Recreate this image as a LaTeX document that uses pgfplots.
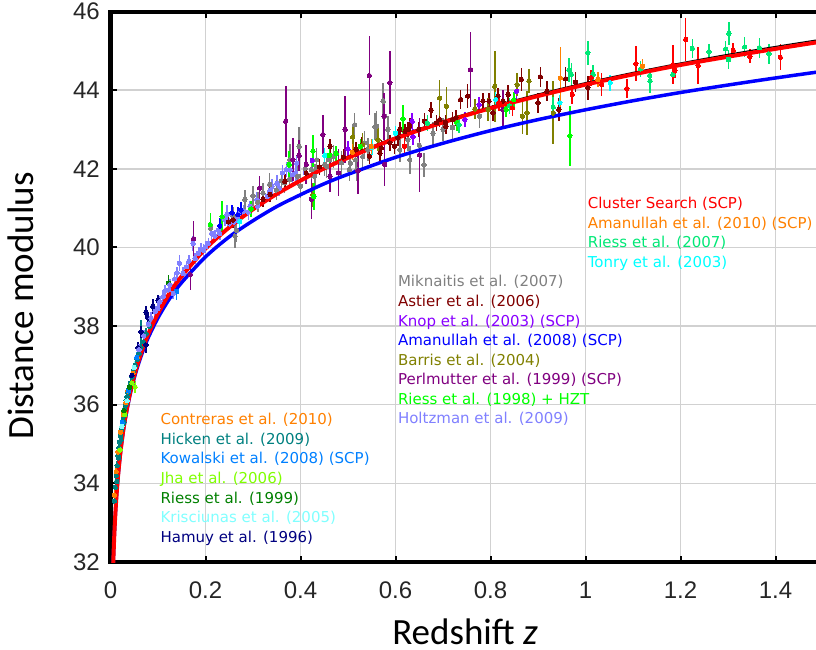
\documentclass[border=0pt]{standalone}
\usepackage{fontspec}
\setmainfont{DejaVu Sans}
\newfontfamily\tickfont{Liberation Sans}
\newfontfamily\labfont{Carlito}
\usepackage{pgfplots}
\pgfplotsset{compat=1.18}
\definecolor{cCluster}{RGB}{255,0,0}
\definecolor{cAma10}{RGB}{255,128,0}
\definecolor{cRie07}{RGB}{0,232,118}
\definecolor{cTonry}{RGB}{0,255,255}
\definecolor{cMik}{RGB}{128,128,128}
\definecolor{cAst}{RGB}{128,0,0}
\definecolor{cKnop}{RGB}{136,0,255}
\definecolor{cAma08}{RGB}{0,0,255}
\definecolor{cBarris}{RGB}{128,128,0}
\definecolor{cPerl}{RGB}{128,0,128}
\definecolor{cRie98}{RGB}{0,255,0}
\definecolor{cHoltz}{RGB}{128,128,255}
\definecolor{cContr}{RGB}{255,128,0}
\definecolor{cHick}{RGB}{0,128,128}
\definecolor{cKow}{RGB}{0,128,255}
\definecolor{cJha}{RGB}{128,255,0}
\definecolor{cRie99}{RGB}{0,128,0}
\definecolor{cKris}{RGB}{128,255,255}
\definecolor{cHamuy}{RGB}{0,0,128}
\pgfplotsset{sn/.style={only marks, mark=*, mark size=2.2pt, color=#1,
  mark options={solid, fill=#1, draw=#1, line width=0pt},
  error bars/.cd, y dir=both, y explicit, error mark=none,
  error bar style={color=#1, line width=1.5pt}}}
\newcommand\legf{\fontsize{15}{18}\selectfont}
\begin{document}
\begin{tikzpicture}
\begin{axis}[
  scale only axis, width=712.5pt, height=550.5pt,
  xmin=0, xmax=1.5, ymin=32, ymax=46,
  xtick={0,0.2,0.4,0.6,0.8,1,1.2,1.4},
  xticklabels={0,0.2,0.4,0.6,0.8,1,1.2,1.4},
  ytick={32,34,36,38,40,42,44,46},
  yticklabels={32,34,36,38,40,42,44,46},
  tick align=inside, major tick length=6pt,
  tick style={black, line width=2pt},
  grid=major, grid style={black!18, line width=1.5pt},
  axis line style={line width=4pt},
  xticklabel style={font={\tickfont\fontsize{24}{28}\selectfont}, text=black!85, inner sep=0pt, anchor=north, yshift=-20pt},
  yticklabel style={font={\tickfont\fontsize{24}{28}\selectfont}, text=black!85, inner sep=0pt, anchor=east, xshift=-10.5pt},
]
\coordinate (BL) at (rel axis cs:0,0);
% ---- low redshift samples
\addplot[sn=cHick] table[x=z,y=mu,y error=e] {
z mu e
0.008 33.55 0.15
0.010 33.90 0.15
0.012 34.20 0.12
0.013 34.05 0.15
0.014 34.45 0.12
0.016 34.70 0.12
0.017 34.65 0.12
0.018 34.90 0.10
0.019 35.05 0.12
0.021 35.20 0.10
0.022 35.10 0.10
0.023 35.35 0.12
0.025 35.50 0.10
0.026 35.60 0.12
0.027 35.70 0.10
0.028 35.55 0.12
0.029 35.80 0.12
0.030 35.90 0.10
0.031 35.75 0.12
0.032 36.00 0.12
0.033 36.10 0.10
0.034 36.05 0.10
0.035 36.20 0.15
0.037 36.30 0.12
0.039 36.40 0.12
0.042 36.55 0.10
0.045 36.70 0.15
0.048 36.85 0.12
0.052 37.00 0.12
0.056 37.15 0.15
0.060 37.30 0.12
0.064 37.85 0.30
0.064 37.45 0.15
0.069 37.60 0.15
0.075 37.80 0.15
0.082 38.00 0.15
};
\addplot[sn=cContr] table[x=z,y=mu,y error=e] {
z mu e
0.008 33.70 0.12
0.012 34.30 0.10
0.016 34.80 0.10
0.021 35.30 0.10
0.027 35.75 0.10
0.032 36.05 0.10
0.037 36.35 0.10
0.047 36.80 0.10
0.056 37.20 0.10
};
\addplot[sn=cKow] table[x=z,y=mu,y error=e] {
z mu e
0.025 35.55 0.15
0.038 36.35 0.15
0.055 37.20 0.15
0.139 38.88 0.22
};
\addplot[sn=cJha] table[x=z,y=mu,y error=e] {
z mu e
0.020 34.85 0.15
0.030 35.75 0.12
0.045 36.55 0.12
0.052 36.45 0.15
};
\addplot[sn=cRie99] table[x=z,y=mu,y error=e] {
z mu e
0.028 35.85 0.15
0.040 36.45 0.15
0.122 39.09 0.20
};
\addplot[sn=cKris] table[x=z,y=mu,y error=e] {
z mu e
0.024 35.45 0.12
0.035 36.10 0.12
0.050 36.95 0.15
};
\addplot[sn=cHamuy] table[x=z,y=mu,y error=e] {
z mu e
0.045 36.75 0.15
0.058 37.45 0.15
0.064 37.85 0.15
0.0745 37.52 0.20
0.075 38.35 0.15
0.079 38.20 0.15
0.089 38.50 0.20
0.100 38.65 0.15
};
% ---- intermediate redshift samples
\addplot[sn=cHoltz] table[x=z,y=mu,y error=e] {
z mu e
0.060 37.40 0.15
0.070 37.75 0.15
0.080 38.05 0.15
0.085 38.20 0.15
0.094 38.37 0.15
0.100 38.45 0.15
0.104 38.62 0.15
0.111 38.75 0.15
0.115 38.90 0.15
0.122 38.92 0.15
0.125 39.05 0.15
0.132 38.83 0.15
0.135 39.20 0.15
0.140 39.35 0.15
0.145 39.60 0.20
0.153 39.34 0.15
0.160 39.51 0.15
0.165 39.65 0.15
0.174 40.10 0.20
0.178 39.72 0.15
0.185 39.85 0.15
0.190 39.95 0.15
0.196 39.93 0.15
0.200 40.02 0.15
0.206 40.10 0.15
0.213 40.36 0.20
0.220 40.29 0.15
0.227 40.44 0.15
0.230 40.35 0.15
0.241 40.70 0.15
0.245 40.84 0.25
0.250 40.60 0.15
0.255 40.84 0.15
0.260 40.65 0.15
0.266 40.75 0.15
0.270 40.85 0.15
0.280 40.92 0.15
0.290 40.90 0.20
0.294 41.04 0.15
0.308 41.21 0.20
0.310 41.05 0.15
0.321 41.38 0.20
0.330 41.30 0.15
0.336 41.46 0.20
0.340 41.55 0.20
0.350 41.63 0.20
0.355 41.50 0.20
0.362 41.90 0.20
0.370 41.98 0.20
0.378 41.97 0.20
0.383 41.85 0.20
0.390 41.90 0.20
0.392 42.14 0.20
0.410 41.90 0.25
};
\addplot[sn=cMik] table[x=z,y=mu,y error=e] {
z mu e
0.211 40.49 0.20
0.258 40.79 0.25
0.262 40.29 0.30
0.265 40.44 0.30
0.283 41.22 0.25
0.300 41.31 0.25
0.310 41.15 0.25
0.321 41.38 0.25
0.335 41.60 0.30
0.349 41.46 0.25
0.360 41.70 0.25
0.366 41.64 0.25
0.377 41.73 0.25
0.378 42.23 0.40
0.394 41.81 0.25
0.397 42.57 0.50
0.400 41.56 0.30
0.410 42.00 0.30
0.423 41.98 0.30
0.430 41.81 0.30
0.434 42.23 0.30
0.451 42.11 0.30
0.455 42.06 0.30
0.461 42.23 0.30
0.469 42.31 0.30
0.486 42.15 0.30
0.503 41.98 0.30
0.505 42.14 0.30
0.514 43.12 0.30
0.516 42.23 0.30
0.519 41.98 0.30
0.531 42.31 0.30
0.535 42.66 0.30
0.542 42.49 0.30
0.557 43.07 0.35
0.560 43.08 0.40
0.574 43.72 0.45
0.577 43.34 0.45
0.584 43.00 0.35
0.609 42.48 0.30
0.626 42.74 0.30
0.630 42.23 0.35
0.650 42.60 0.30
0.660 42.10 0.30
0.679 42.90 0.30
0.700 43.00 0.30
0.720 43.05 0.35
0.777 43.34 0.30
};
\addplot[sn=cAst] table[x=z,y=mu,y error=e] {
z mu e
0.248 40.65 0.20
0.258 40.70 0.20
0.321 41.22 0.20
0.336 41.35 0.20
0.367 41.68 0.20
0.412 41.89 0.20
0.440 42.05 0.20
0.462 42.57 0.20
0.490 42.30 0.20
0.517 42.49 0.20
0.529 42.60 0.20
0.545 42.32 0.20
0.567 42.40 0.20
0.570 42.53 0.20
0.588 42.66 0.20
0.598 42.57 0.20
0.605 42.79 0.20
0.609 43.00 0.20
0.620 42.95 0.20
0.626 43.00 0.20
0.630 43.09 0.20
0.649 43.00 0.20
0.661 43.21 0.20
0.675 43.49 0.20
0.686 43.17 0.20
0.693 43.25 0.20
0.705 43.18 0.20
0.706 43.08 0.20
0.720 43.25 0.20
0.727 43.30 0.20
0.737 43.76 0.25
0.752 43.85 0.30
0.784 43.72 0.20
0.797 43.72 0.20
0.805 43.42 0.20
0.816 43.85 0.20
0.826 43.72 0.20
0.837 43.89 0.25
0.865 44.27 0.30
0.900 43.68 0.25
0.905 44.34 0.25
0.919 43.97 0.25
0.944 43.51 0.30
0.958 44.29 0.30
0.979 44.20 0.25
1.005 44.06 0.30
};
\addplot[sn=cPerl] table[x=z,y=mu,y error=e] {
z mu e
0.168 39.31 0.40
0.175 40.22 0.45
0.314 41.51 0.30
0.369 43.21 0.90
0.384 42.23 0.55
0.397 42.34 0.40
0.412 42.11 0.50
0.423 41.23 0.50
0.447 42.87 0.50
0.462 41.81 0.40
0.480 41.90 0.60
0.494 43.00 0.85
0.521 41.95 0.60
0.545 44.37 1.00
0.576 43.34 0.60
0.577 42.11 0.55
0.588 44.19 0.80
0.651 42.35 0.95
0.758 44.52 0.95
0.826 43.51 0.50
};
\addplot[sn=cKnop] table[x=z,y=mu,y error=e] {
z mu e
0.425 42.21 0.20
0.500 42.50 0.20
0.635 43.21 0.20
0.637 42.81 0.20
0.746 43.25 0.20
0.776 43.63 0.20
0.855 43.97 0.20
};
\addplot[sn=cAma08] table[x=z,y=mu,y error=e] {
z mu e
0.230 40.55 0.20
0.256 40.88 0.20
0.268 40.83 0.20
0.275 40.95 0.20
};
\addplot[sn=cBarris] table[x=z,y=mu,y error=e] {
z mu e
0.426 41.34 0.30
0.510 42.81 0.30
0.531 42.61 0.30
0.563 42.74 0.30
0.693 43.80 0.45
0.707 43.59 0.50
0.767 43.52 0.25
0.795 43.51 0.30
0.809 44.10 0.90
0.856 44.14 0.30
0.867 43.34 0.45
0.877 43.42 0.55
0.881 44.23 0.30
0.932 43.42 0.80
};
\addplot[sn=cRie98] table[x=z,y=mu,y error=e] {
z mu e
0.210 40.58 0.30
0.235 40.78 0.40
0.296 40.98 0.20
0.376 42.11 0.35
0.426 42.45 0.40
0.428 41.30 0.35
0.461 42.34 0.20
0.475 42.39 0.20
0.526 42.57 0.20
0.616 43.27 0.35
0.729 43.17 0.20
0.833 43.51 0.20
0.849 43.76 0.20
0.967 42.84 0.76
};
\addplot[sn=cTonry] table[x=z,y=mu,y error=e] {
z mu e
0.272 40.66 0.20
0.451 42.34 0.20
0.550 42.55 0.20
0.600 42.90 0.20
0.811 43.76 0.20
0.946 43.68 0.20
1.052 44.19 0.20
};
% ---- high redshift samples
\addplot[sn=cRie07] table[x=z,y=mu,y error=e] {
z mu e
0.667 43.16 0.20
0.734 43.12 0.20
0.840 43.60 0.20
0.932 43.57 0.25
0.965 44.51 0.30
0.970 44.40 0.30
1.005 44.95 0.30
1.016 44.40 0.25
1.116 44.54 0.20
1.135 44.37 0.20
1.136 44.23 0.30
1.184 44.40 0.20
1.225 45.06 0.23
1.260 44.98 0.20
1.295 45.05 0.20
1.302 45.44 0.30
1.301 44.78 0.23
1.335 45.10 0.25
1.366 45.08 0.25
1.386 44.92 0.25
};
\addplot[sn=cAma10] table[x=z,y=mu,y error=e] {
z mu e
0.509 42.42 0.20
0.549 42.57 0.20
0.947 44.31 0.78
1.026 44.27 0.20
1.120 44.61 0.17
};
\addplot[sn=cCluster] table[x=z,y=mu,y error=e] {
z mu e
0.619 42.57 0.25
0.818 43.68 0.20
0.846 43.55 0.20
0.972 43.89 0.25
1.012 44.31 0.20
1.034 44.14 0.30
1.087 44.04 0.25
1.106 44.67 0.45
1.184 44.65 0.50
1.188 44.50 0.20
1.211 45.29 0.55
1.237 44.63 0.47
1.311 45.01 0.19
1.346 44.86 0.18
1.410 44.84 0.34
};
% ---- model curves
\addplot[blue, line width=3.5pt, smooth, no marks] table[x=z,y=mu] {
z mu
0.005 31.66
0.006 32.05
0.008 32.68
0.010 33.16
0.012 33.56
0.015 34.05
0.020 34.67
0.025 35.16
0.030 35.56
0.040 36.19
0.050 36.68
0.060 37.08
0.070 37.42
0.080 37.72
0.100 38.21
0.125 38.71
0.150 39.11
0.200 39.76
0.250 40.27
0.300 40.68
0.350 41.04
0.400 41.34
0.450 41.62
0.500 41.86
0.600 42.29
0.700 42.65
0.800 42.97
0.900 43.25
1.000 43.50
1.100 43.73
1.200 43.94
1.300 44.13
1.400 44.31
1.500 44.48
};
\addplot[black, line width=1.2pt, smooth, no marks] table[x=z,y=mu] {
z mu
0.005 31.66
0.006 32.06
0.008 32.69
0.010 33.18
0.015 34.07
0.020 34.70
0.030 35.60
0.050 36.74
0.080 37.81
0.100 38.32
0.150 39.28
0.200 39.98
0.300 40.99
0.400 41.73
0.500 42.32
0.600 42.81
0.700 43.22
0.800 43.58
0.900 43.90
1.000 44.19
1.100 44.45
1.200 44.69
1.300 44.91
1.400 45.11
1.500 45.30
};
\addplot[red, line width=4pt, smooth, no marks] table[x=z,y=mu] {
z mu
0.005 31.66
0.006 32.06
0.008 32.69
0.010 33.18
0.012 33.58
0.015 34.07
0.020 34.70
0.025 35.19
0.030 35.60
0.040 36.24
0.050 36.74
0.060 37.15
0.070 37.50
0.080 37.81
0.100 38.32
0.125 38.85
0.150 39.27
0.200 39.97
0.250 40.51
0.300 40.97
0.350 41.36
0.400 41.70
0.450 42.01
0.500 42.28
0.600 42.77
0.700 43.18
0.800 43.54
0.900 43.85
1.000 44.14
1.100 44.40
1.200 44.64
1.300 44.85
1.400 45.05
1.500 45.24
};
% ---- labels of the samples
\node[anchor=base west, text=cCluster, font=\legf] at (axis cs:0.9975,40.99) {Cluster Search (SCP)};
\node[anchor=base west, text=cAma10, font=\legf] at (axis cs:0.9975,40.49) {Amanullah et al. (2010) (SCP)};
\node[anchor=base west, text=cRie07, font=\legf] at (axis cs:0.9975,39.99) {Riess et al. (2007)};
\node[anchor=base west, text=cTonry, font=\legf] at (axis cs:0.9975,39.49) {Tonry et al. (2003)};
\node[anchor=base west, text=cMik, font=\legf] at (axis cs:0.5979,39.00) {Miknaitis et al. (2007)};
\node[anchor=base west, text=cAst, font=\legf] at (axis cs:0.5979,38.50) {Astier et al. (2006)};
\node[anchor=base west, text=cKnop, font=\legf] at (axis cs:0.5979,38.00) {Knop et al. (2003) (SCP)};
\node[anchor=base west, text=cAma08, font=\legf] at (axis cs:0.5979,37.51) {Amanullah et al. (2008) (SCP)};
\node[anchor=base west, text=cBarris, font=\legf] at (axis cs:0.5979,37.01) {Barris et al. (2004)};
\node[anchor=base west, text=cPerl, font=\legf] at (axis cs:0.5979,36.51) {Perlmutter et al. (1999) (SCP)};
\node[anchor=base west, text=cRie98, font=\legf] at (axis cs:0.5979,36.01) {Riess et al. (1998) + HZT};
\node[anchor=base west, text=cHoltz, font=\legf] at (axis cs:0.5979,35.51) {Holtzman et al. (2009)};
\node[anchor=base west, text=cContr, font=\legf] at (axis cs:0.0979,35.49) {Contreras et al. (2010)};
\node[anchor=base west, text=cHick, font=\legf] at (axis cs:0.0979,34.99) {Hicken et al. (2009)};
\node[anchor=base west, text=cKow, font=\legf] at (axis cs:0.0979,34.50) {Kowalski et al. (2008) (SCP)};
\node[anchor=base west, text=cJha, font=\legf] at (axis cs:0.0979,34.00) {Jha et al. (2006)};
\node[anchor=base west, text=cRie99, font=\legf] at (axis cs:0.0979,33.50) {Riess et al. (1999)};
\node[anchor=base west, text=cKris, font=\legf] at (axis cs:0.0979,33.00) {Krisciunas et al. (2005)};
\node[anchor=base west, text=cHamuy, font=\legf] at (axis cs:0.0979,32.50) {Hamuy et al. (1996)};
\end{axis}
\node[anchor=base, inner sep=0pt, font={\labfont\fontsize{37}{44}\selectfont}] at ([shift={(354.5pt,-82pt)}]BL) {Redshift \textit{z}};
\node[anchor=base, inner sep=0pt, rotate=90, font={\labfont\fontsize{37}{44}\selectfont}] at ([shift={(-77.2pt,256pt)}]BL) {Distance modulus};
\pgfresetboundingbox
\useasboundingbox ([shift={(-110.5pt,-87pt)}]BL) rectangle ([shift={(705.5pt,562pt)}]BL);
\end{tikzpicture}
\end{document}
